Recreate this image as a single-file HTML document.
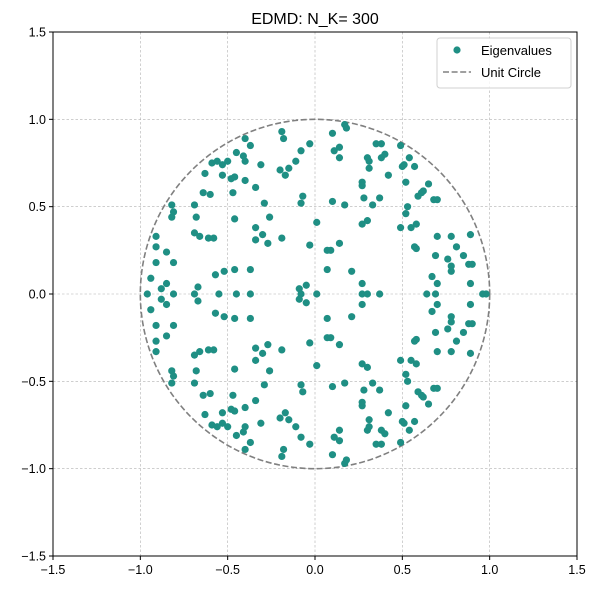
<!DOCTYPE html>
<html><head><meta charset="utf-8"><style>
body{margin:0;background:#fff}
svg text{font-family:"Liberation Sans","DejaVu Sans",sans-serif}
</style></head><body>
<svg id="chart" width="598" height="590" xmlns="http://www.w3.org/2000/svg"></svg>
<script>
const upperRe=[-0.19,-0.18,-0.40,-0.37,-0.45,-0.41,-0.40,-0.59,-0.56,-0.53,-0.50,-0.31,-0.20,-0.15,-0.17,-0.11,-0.08,-0.03,-0.63,-0.53,-0.48,-0.46,-0.40,-0.34,-0.64,-0.60,-0.47,-0.07,-0.08,-0.29,-0.82,-0.69,-0.81,-0.82,-0.68,-0.46,-0.26,0.01,-0.34,-0.69,-0.66,-0.61,-0.58,-0.30,-0.34,-0.27,-0.19,-0.03,-0.91,-0.91,-0.85,-0.91,-0.81,-0.57,-0.52,-0.46,-0.37,-0.94,-0.88,-0.85,-0.67,-0.09,-0.05,
0.17,0.18,0.10,0.11,0.14,0.14,0.35,0.38,0.49,0.30,0.31,0.31,0.38,0.40,0.54,0.51,0.50,0.57,0.42,0.52,0.65,0.27,0.27,0.59,0.61,0.62,0.68,0.70,0.28,0.37,0.33,0.10,0.17,0.53,0.52,0.30,0.27,0.49,0.55,0.58,0.70,0.78,0.89,0.07,0.09,0.14,0.57,0.58,0.81,0.69,0.76,0.85,0.88,0.90,0.78,0.78,0.07,0.21,0.67,0.70,0.27,0.89];
const upperIm=[0.93,0.89,0.89,0.85,0.81,0.79,0.76,0.75,0.76,0.74,0.76,0.74,0.71,0.72,0.68,0.76,0.82,0.86,0.69,0.68,0.66,0.67,0.65,0.61,0.58,0.57,0.58,0.56,0.52,0.52,0.51,0.51,0.47,0.44,0.44,0.43,0.44,0.41,0.38,0.35,0.33,0.32,0.32,0.34,0.31,0.29,0.32,0.28,0.33,0.27,0.24,0.18,0.18,0.11,0.13,0.14,0.14,0.09,0.03,0.06,0.04,0.03,0.05,
0.97,0.95,0.92,0.82,0.84,0.78,0.86,0.86,0.85,0.78,0.76,0.72,0.78,0.80,0.78,0.74,0.73,0.73,0.68,0.64,0.63,0.64,0.62,0.56,0.58,0.59,0.54,0.54,0.55,0.55,0.51,0.53,0.51,0.50,0.46,0.42,0.40,0.38,0.38,0.40,0.33,0.33,0.34,0.25,0.25,0.29,0.27,0.26,0.27,0.22,0.20,0.22,0.17,0.17,0.16,0.13,0.14,0.13,0.10,0.06,0.06,0.06];
const realAxisRe=[-0.96,-0.81,-0.69,-0.55,-0.45,-0.37,-0.08,0.01,0.27,0.30,0.37,0.64,0.69,0.96,0.98];
const tickVals=[-1.5,-1.0,-0.5,0.0,0.5,1.0,1.5];
const tickLabels=["−1.5","−1.0","−0.5","0.0","0.5","1.0","1.5"];

const NS="http://www.w3.org/2000/svg";
const svg=document.getElementById('chart');
const L=53,R=577,T=32,B=556;
const sx=v=>L+(v+1.5)/3*(R-L);
const sy=v=>B-(v+1.5)/3*(B-T);
function mk(tag,attrs,parent){const e=document.createElementNS(NS,tag);for(const k in attrs)e.setAttribute(k,attrs[k]);(parent||svg).appendChild(e);return e;}

const grid=mk('g',{});


tickVals.forEach(v=>{
  const a=mk('line',{x1:sx(v),x2:sx(v),y1:T,y2:B,stroke:'#b0b0b0','stroke-width':0.6,'stroke-dasharray':'2.5,2'},grid);
  
  
  const b=mk('line',{y1:sy(v),y2:sy(v),x1:L,x2:R,stroke:'#b0b0b0','stroke-width':0.6,'stroke-dasharray':'2.5,2'},grid);
  
  
});

const circ=mk('ellipse',{cx:sx(0),cy:sy(0),rx:sx(1)-sx(0),ry:sy(0)-sy(1),fill:'none',stroke:'#808080','stroke-width':1.6,'stroke-dasharray':'6,2.6'});



const pts=mk('g',{fill:'#1f8f84'});


function dot(re,im){const c=mk('circle',{cx:sx(re),cy:sy(im),r:3.6},pts);
  
  }
for(let i=0;i<upperRe.length;i++){dot(upperRe[i],upperIm[i]);dot(upperRe[i],-upperIm[i]);}
realAxisRe.forEach(r=>dot(r,0));

const frame=mk('rect',{x:L,y:T,width:R-L,height:B-T,fill:'none',stroke:'#000','stroke-width':1});



tickVals.forEach((v,i)=>{
  mk('line',{x1:sx(v),x2:sx(v),y1:B,y2:B+4,stroke:'#000'});
  const tx=mk('text',{x:sx(v),y:B+18,'text-anchor':'middle','font-size':12.5});
  tx.textContent=tickLabels[i];
  
  
  mk('line',{x1:L-4,x2:L,y1:sy(v),y2:sy(v),stroke:'#000'});
  const ty=mk('text',{x:L-7,y:sy(v)+4.5,'text-anchor':'end','font-size':12.5});
  ty.textContent=tickLabels[i];
  
  
});

const title=mk('text',{x:(L+R)/2,y:24,'text-anchor':'middle','font-size':16});
title.textContent='EDMD: N_K= 300';



const lg=mk('g',{});


mk('rect',{x:437,y:38,width:134,height:50,rx:3,fill:'#fff','fill-opacity':0.8,stroke:'#d0d0d0'},lg);
const ld=mk('circle',{cx:457,cy:50,r:3.6,fill:'#1f8f84'},lg);


const l1=mk('text',{x:481,y:55,'font-size':13},lg);l1.textContent='Eigenvalues';


const ll=mk('line',{x1:443,x2:471,y1:72,y2:72,stroke:'#808080','stroke-width':1.6,'stroke-dasharray':'6,2.6'},lg);


const l2=mk('text',{x:481,y:77,'font-size':13},lg);l2.textContent='Unit Circle';


</script>
</body></html>
